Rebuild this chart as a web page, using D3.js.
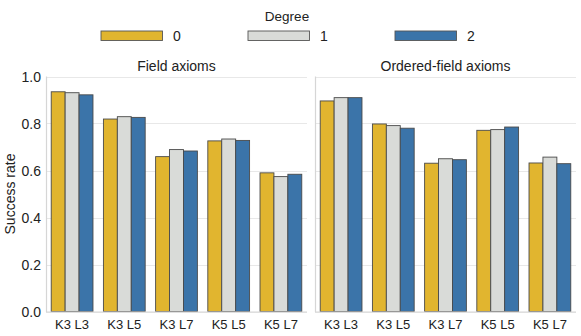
<!DOCTYPE html>
<html><head><meta charset="utf-8">
<script src="https://cdn.jsdelivr.net/npm/d3@7"></script>
<style>body{margin:0;background:#fff}svg{display:block;font-family:"Liberation Sans",Arial,sans-serif}</style>
</head><body><svg id="c" width="581" height="336"></svg>
<script>
const categories = ["K3 L3","K3 L5","K3 L7","K5 L5","K5 L7"];
const degrees = ["0","1","2"];
const panels = ["Field axioms","Ordered-field axioms"];
const fieldValues = [
  [0.935,0.931,0.922],
  [0.819,0.829,0.826],
  [0.659,0.689,0.683],
  [0.726,0.734,0.728],
  [0.590,0.574,0.584]
];
const orderedValues = [
  [0.896,0.910,0.910],
  [0.798,0.791,0.780],
  [0.631,0.650,0.646],
  [0.771,0.774,0.785],
  [0.632,0.657,0.629]
];
const yTicks = [0.0,0.2,0.4,0.6,0.8,1.0];
const colors = ["#E1B52F","#D9DBD8","#3B74A9"];

const svg = d3.select("#c");
const y = d3.scaleLinear().domain([0,1]).range([311.5,76.5]);
const panelX = [[46,307],[315,576]];
const data = [fieldValues, orderedValues];

panelX.forEach((px,pi)=>{
  const g = svg.append("g");
  const band = d3.scaleBand().domain(categories).range(px).padding(0);
  const x1 = d3.scaleBand().domain(degrees).range([0, band.bandwidth()*0.8]);
  g.selectAll("line.grid").data(yTicks).join("line")
    .attr("x1",px[0]).attr("x2",px[1])
    .attr("y1",d=>Math.round(y(d))+0.5).attr("y2",d=>Math.round(y(d))+0.5)
    .attr("stroke","#e8e8e8").attr("stroke-width",1);
  categories.forEach((cat,ci)=>{
    const gx = band(cat) + band.bandwidth()*0.1;
    degrees.forEach((dg,di)=>{
      const v = data[pi][ci][di];
      g.append("rect")
        .attr("x", gx + x1(dg))
        .attr("y", y(v))
        .attr("width", x1.bandwidth())
        .attr("height", y(0)-y(v))
        .attr("fill", colors[di])
        .attr("stroke","#4a4a4a")
        .attr("stroke-width",0.9);
    });
  });
  g.append("line").attr("x1",px[0]+0.5).attr("x2",px[0]+0.5).attr("y1",y(1)).attr("y2",y(0)+0.5)
    .attr("stroke","#d6d6d6").attr("stroke-width",1.2);
  g.append("line").attr("x1",px[0]).attr("x2",px[1]).attr("y1",y(0)+0.5).attr("y2",y(0)+0.5)
    .attr("stroke","#d6d6d6").attr("stroke-width",1.2);
  g.selectAll("text.xt").data(categories).join("text")
    .attr("x",d=>band(d)+band.bandwidth()/2).attr("y",328.5)
    .attr("text-anchor","middle").attr("font-size",13).attr("fill","#222").text(d=>d);
  g.append("text").attr("x",(px[0]+px[1])/2).attr("y",71).attr("text-anchor","middle")
    .attr("font-size",14).attr("fill","#222").text(panels[pi]);
  if(pi===0){
    g.selectAll("text.yt").data(yTicks).join("text")
      .attr("x",41).attr("y",d=>y(d)+5).attr("text-anchor","end")
      .attr("font-size",14).attr("fill","#222").text(d=>d.toFixed(1));
  }
});

svg.append("text").attr("transform","translate(15,194) rotate(-90)")
  .attr("text-anchor","middle").attr("font-size",14).attr("fill","#222").text("Success rate");

svg.append("text").attr("x",287).attr("y",21).attr("text-anchor","middle")
  .attr("font-size",13.5).attr("fill","#222").text("Degree");
const lx = d3.scalePoint().domain(degrees).range([101,395]);
degrees.forEach((dg,i)=>{
  svg.append("rect").attr("x",lx(dg)).attr("y",31).attr("width",61.5).attr("height",9.5)
    .attr("fill",colors[i]).attr("stroke","#555").attr("stroke-width",0.9);
  svg.append("text").attr("x",lx(dg)+72).attr("y",40.5).attr("font-size",14).attr("fill","#222").text(dg);
});
</script></body></html>
